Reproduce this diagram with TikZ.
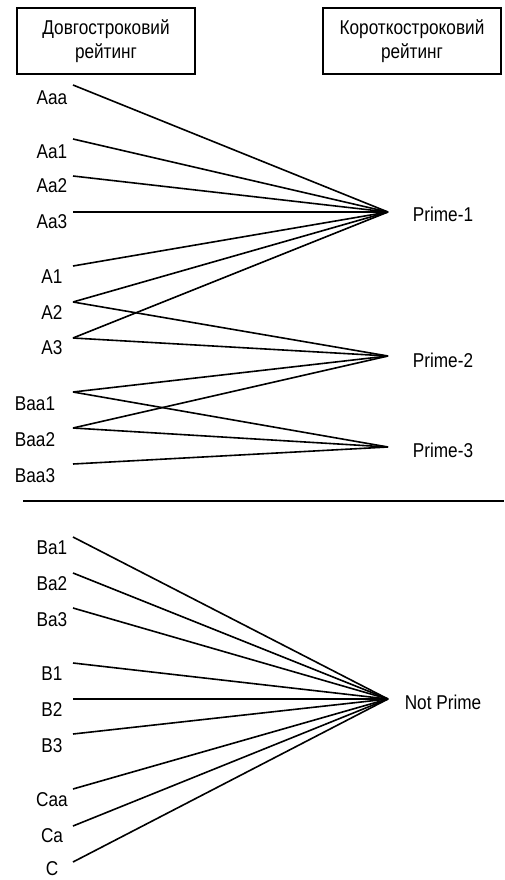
\documentclass[tikz,border=0pt]{standalone}
\usepackage{fontspec}
\setmainfont[FakeStretch=0.86]{Liberation Sans}
\begin{document}
\begin{tikzpicture}[x=1pt,y=-1pt,
  lbl/.style={font=\fontsize{20}{22}\selectfont, inner sep=0pt, anchor=center},
  hdr/.style={draw, line width=1.6pt, minimum width=178pt, minimum height=66pt, align=center, font=\fontsize{20}{24}\selectfont, inner sep=0pt},
  link/.style={line width=1.6pt}]
\useasboundingbox (0,0) rectangle (504,880);
% headers
\node[hdr] (hl) at (106,41) {Довгостроковий\\рейтинг};
\node[hdr] (hr) at (412,41) {Короткостроковий\\рейтинг};
% left labels
\node[lbl] (lAaa) at (52,98) {Aaa};
\node[lbl] (lAa1) at (52,152) {Aa1};
\node[lbl] (lAa2) at (52,186) {Aa2};
\node[lbl] (lAa3) at (52,222) {Aa3};
\node[lbl] (lA1) at (52,277) {A1};
\node[lbl] (lA2) at (52,313) {A2};
\node[lbl] (lA3) at (52,348) {A3};
\node[lbl] (lBaa1) at (35,404) {Baa1};
\node[lbl] (lBaa2) at (35,440) {Baa2};
\node[lbl] (lBaa3) at (35,476) {Baa3};
\node[lbl] (lBa1) at (52,548) {Ba1};
\node[lbl] (lBa2) at (52,584) {Ba2};
\node[lbl] (lBa3) at (52,620) {Ba3};
\node[lbl] (lB1) at (52,674) {B1};
\node[lbl] (lB2) at (52,710) {B2};
\node[lbl] (lB3) at (52,746) {B3};
\node[lbl] (lCaa) at (52,800) {Caa};
\node[lbl] (lCa) at (52,836) {Ca};
\node[lbl] (lC) at (52,869) {C};
% right labels
\node[lbl] (rP1) at (443,214) {Prime-1};
\node[lbl] (rP2) at (443,360) {Prime-2};
\node[lbl] (rP3) at (443,450) {Prime-3};
\node[lbl] (rNP) at (443,702) {Not Prime};
% line start points
\coordinate (Aaa) at (73,85);
\coordinate (Aa1) at (73,139);
\coordinate (Aa2) at (73,176);
\coordinate (Aa3) at (73,212);
\coordinate (A1) at (73,266);
\coordinate (A2) at (73,302);
\coordinate (A3) at (73,338);
\coordinate (Baa1) at (73,392);
\coordinate (Baa2) at (73,428);
\coordinate (Baa3) at (73,464);
\coordinate (Ba1) at (73,537);
\coordinate (Ba2) at (73,573);
\coordinate (Ba3) at (73,608);
\coordinate (B1) at (73,663);
\coordinate (B2) at (73,699);
\coordinate (B3) at (73,734);
\coordinate (Caa) at (73,789);
\coordinate (Ca) at (73,826);
\coordinate (C) at (73,862);
% convergence points
\coordinate (P1) at (388,212);
\coordinate (P2) at (388,356);
\coordinate (P3) at (388,447);
\coordinate (NP) at (388,699);
% connectors
\foreach \s in {Aaa,Aa1,Aa2,Aa3,A1,A2,A3} \draw[link] (\s) -- (P1);
\foreach \s in {A2,A3,Baa1,Baa2} \draw[link] (\s) -- (P2);
\foreach \s in {Baa1,Baa2,Baa3} \draw[link] (\s) -- (P3);
\foreach \s in {Ba1,Ba2,Ba3,B1,B2,B3,Caa,Ca,C} \draw[link] (\s) -- (NP);
% separator
\coordinate (sepL) at (23,501);
\coordinate (sepR) at (504,501);
\draw[link] (sepL) -- (sepR);
\end{tikzpicture}
\end{document}
